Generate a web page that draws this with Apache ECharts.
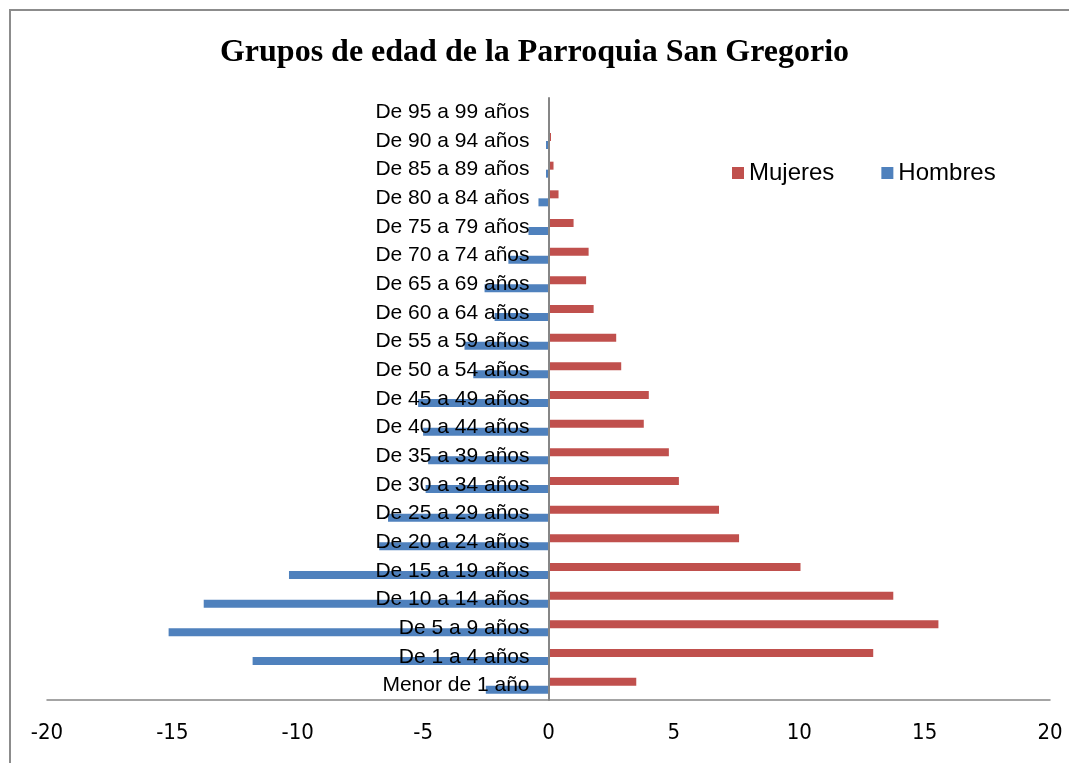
<!DOCTYPE html>
<html>
<head>
<meta charset="utf-8">
<script src="https://cdn.jsdelivr.net/npm/echarts@6/dist/echarts.min.js"></script>
<style>
  html, body { margin: 0; padding: 0; background: #fff; }
  #frame { position: absolute; left: 9px; top: 9px; width: 1069px; height: 763px;
           border-left: 2px solid #8c8c8c; border-top: 2px solid #8c8c8c; }
  #container { position: absolute; left: 0; top: 0; width: 1069px; height: 763px; }
</style>
</head>
<body>
<div id="frame"></div>
<div id="container"></div>
<script>
  // grupos de edad, de abajo hacia arriba
  var grupos = ['Menor de 1 año', 'De 1 a 4 años', 'De 5 a 9 años', 'De 10 a 14 años',
    'De 15 a 19 años', 'De 20 a 24 años', 'De 25 a 29 años', 'De 30 a 34 años',
    'De 35 a 39 años', 'De 40 a 44 años', 'De 45 a 49 años', 'De 50 a 54 años',
    'De 55 a 59 años', 'De 60 a 64 años', 'De 65 a 69 años', 'De 70 a 74 años',
    'De 75 a 79 años', 'De 80 a 84 años', 'De 85 a 89 años', 'De 90 a 94 años',
    'De 95 a 99 años'];
  var mujeres = [3.5, 12.95, 15.55, 13.75, 10.05, 7.6, 6.8, 5.2, 4.8, 3.8, 4.0,
    2.9, 2.7, 1.8, 1.5, 1.6, 1.0, 0.4, 0.2, 0.1, 0];
  var hombres = [-2.5, -11.8, -15.15, -13.75, -10.35, -6.75, -6.4, -4.9, -4.8, -5.0, -5.2,
    -3.0, -3.35, -2.15, -2.55, -1.6, -0.8, -0.4, -0.1, -0.1, 0];

  var axisColor = '#868686';
  var gridLeft = 47, gridRight = 19;
  var dom = document.getElementById('container');
  var myChart = echarts.init(dom, null, {renderer: 'canvas'});
  // the category axis sits at x = 0, labels go with it
  var zeroShift = (1069 - gridLeft - gridRight) / 2;
  myChart.setOption({
    backgroundColor: 'transparent',
    animation: false,
    title: {
      text: 'Grupos de edad de la Parroquia San Gregorio',
      left: 'center',
      top: 32,
      textStyle: {
        fontFamily: 'Liberation Serif',
        fontWeight: 'bold',
        fontSize: 32,
        color: '#000'
      }
    },
    legend: {
      data: ['Mujeres', 'Hombres'],
      left: 727,
      top: 156,
      itemWidth: 12,
      itemHeight: 12,
      itemGap: 47,
      icon: 'rect',
      textStyle: {
        fontFamily: 'Liberation Sans',
        fontSize: 24,
        color: '#000'
      }
    },
    grid: {
      left: gridLeft,
      right: gridRight,
      top: 98,
      bottom: 63,
      containLabel: false,
      outerBoundsMode: 'none'
    },
    xAxis: {
      type: 'value',
      min: -20,
      max: 20,
      interval: 5,
      axisLine: { show: true, lineStyle: { color: axisColor, width: 1.5 } },
      axisTick: { show: false },
      splitLine: { show: false },
      axisLabel: {
        margin: 22,
        fontFamily: 'Liberation Sans Narrow, DejaVu Sans Condensed, sans-serif',
        fontSize: 22,
        color: '#000'
      }
    },
    yAxis: {
      type: 'category',
      data: grupos,
      z: 10,
      offset: -zeroShift,
      axisLine: { show: true, onZero: false, lineStyle: { color: axisColor, width: 2 } },
      axisTick: { show: false },
      splitLine: { show: false },
      axisLabel: {
        margin: 19,
        fontFamily: 'Liberation Sans',
        fontSize: 21,
        color: '#000'
      }
    },
    series: [
      {
        name: 'Mujeres',
        type: 'bar',
        data: mujeres,
        barWidth: 8,
        barGap: '0%',
        itemStyle: { color: '#C0504D' }
      },
      {
        name: 'Hombres',
        type: 'bar',
        data: hombres,
        barWidth: 8,
        barGap: '0%',
        itemStyle: { color: '#4F81BD' }
      }
    ]
  });
</script>
</body>
</html>
